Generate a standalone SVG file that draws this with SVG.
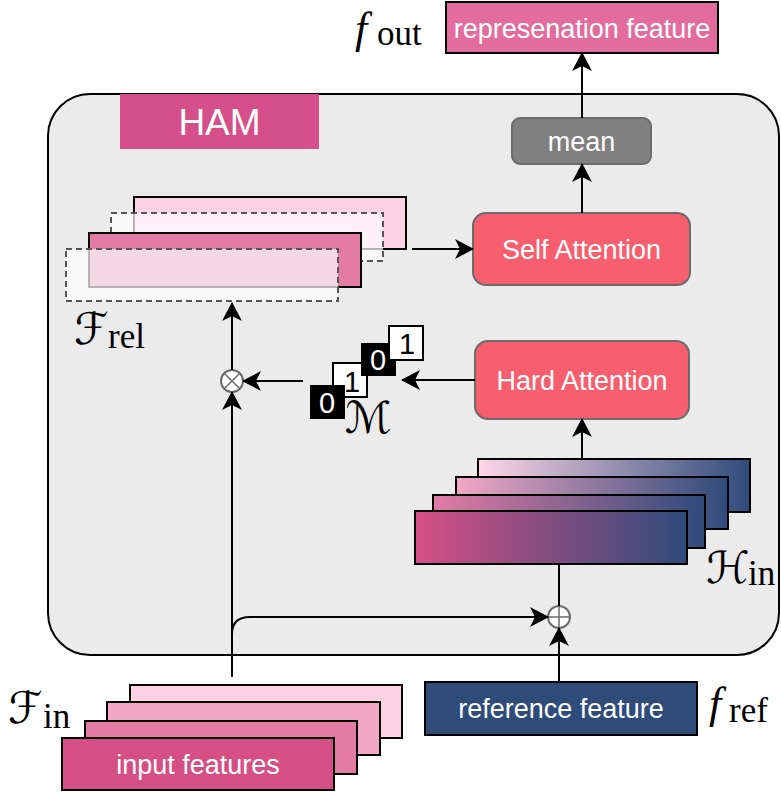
<svg xmlns="http://www.w3.org/2000/svg" width="781" height="797" viewBox="0 0 781 797">
  <style>
    .lbl { font-family: "Liberation Sans", Arial, sans-serif; font-size: 27px; fill: #ffffff; text-anchor: middle; }
    .box { stroke: #000; stroke-width: 2; }
    .rbox { stroke: #6b6b6b; stroke-width: 2; }
    .dash { fill: #ffffff; fill-opacity: 0.7; stroke: #555; stroke-width: 2; stroke-dasharray: 6 4; }
    .edge { fill: none; stroke: #000; stroke-width: 2; }
    .op { fill: #ffffff; stroke: #6b6b6b; stroke-width: 2; }
    .mathf { font-family: "Liberation Serif", "Times New Roman", serif; font-style: italic; font-size: 44px; fill: #000; }
    .cal { font-family: "DejaVu Serif", "DejaVu Sans", serif; font-style: italic; font-size: 44px; fill: #000; }
    .sub { font-family: "Liberation Serif", "Times New Roman", serif; font-size: 35px; fill: #000; }
    .bit { font-family: "Liberation Sans", Arial, sans-serif; font-size: 29px; text-anchor: middle; }
  </style>
  <defs>
    <marker id="arrow" viewBox="0 0 19 20" refX="18" refY="10" markerWidth="19" markerHeight="20" markerUnits="userSpaceOnUse" orient="auto">
      <path d="M0,0 L19,10 L0,20 L5,10 Z" fill="#000"/>
    </marker>
    <linearGradient id="g1" x1="0" y1="0" x2="1" y2="0">
      <stop offset="0" stop-color="#ffd6e6"/>
      <stop offset="1" stop-color="#2f4b7c"/>
    </linearGradient>
    <linearGradient id="g2" x1="0" y1="0" x2="1" y2="0">
      <stop offset="0" stop-color="#f2a8c4"/>
      <stop offset="1" stop-color="#2f4b7c"/>
    </linearGradient>
    <linearGradient id="g3" x1="0" y1="0" x2="1" y2="0">
      <stop offset="0" stop-color="#e27ca3"/>
      <stop offset="1" stop-color="#2f4b7c"/>
    </linearGradient>
    <linearGradient id="g4" x1="0" y1="0" x2="1" y2="0">
      <stop offset="0" stop-color="#d54f84"/>
      <stop offset="1" stop-color="#2f4b7c"/>
    </linearGradient>
  </defs>

  <!-- HAM module container -->
  <g id="ham">
    <rect x="48" y="94" width="731" height="561" rx="42" fill="#ebebeb" stroke="#000" stroke-width="2"/>
    <rect x="120" y="94" width="199" height="55" fill="#d5508a"/>
    <text x="219.5" y="135" class="lbl" style="font-size:37px">HAM</text>
  </g>

  <!-- output -->
  <g id="out-feature">
    <rect class="box" x="446" y="2" width="272" height="51" fill="#e36c9e"/>
    <text x="582" y="38" class="lbl">represenation feature</text>
  </g>
  <g id="f-out">
    <text x="355" y="43" class="mathf">f</text>
    <text x="377" y="45" class="sub">out</text>
  </g>

  <g id="mean">
    <rect class="rbox" x="512" y="118" width="139" height="46" rx="8" fill="#808080"/>
    <text x="581.5" y="151" class="lbl">mean</text>
  </g>

  <g id="self-attention">
    <rect class="rbox" x="473" y="213" width="217" height="72" rx="13" fill="#f85f6e"/>
    <text x="581.5" y="259" class="lbl">Self Attention</text>
  </g>

  <g id="hard-attention">
    <rect class="rbox" x="475" y="341" width="214" height="78" rx="13" fill="#f85f6e"/>
    <text x="582" y="390" class="lbl">Hard Attention</text>
  </g>

  <!-- relevant feature stack -->
  <g id="f-rel">
    <rect class="box" x="134" y="197" width="272" height="52" fill="#ffd1e3"/>
    <rect class="dash" x="111" y="213" width="272" height="48"/>
    <rect class="box" x="89" y="233" width="272" height="54" fill="#e27ca3"/>
    <rect class="dash" x="66" y="249" width="272" height="52"/>
    <text x="74" y="344" class="cal">ℱ</text>
    <text x="108" y="348" class="sub">rel</text>
  </g>

  <g id="otimes">
    <circle class="op" cx="232" cy="381" r="11"/>
    <path d="M224.2,373.2 L239.8,388.8 M239.8,373.2 L224.2,388.8" stroke="#6b6b6b" stroke-width="1.5"/>
  </g>

  <!-- binary mask -->
  <g id="mask">
    <rect x="333" y="363" width="34" height="34" fill="#fff" stroke="#000" stroke-width="2"/>
    <text x="352" y="392" class="bit" fill="#000">1</text>
    <rect x="310" y="385" width="35" height="34" fill="#000"/>
    <text x="327" y="413" class="bit" fill="#fff">0</text>
    <rect x="361" y="343" width="35" height="33" fill="#000"/>
    <text x="378" y="370" class="bit" fill="#fff">0</text>
    <rect x="389" y="326" width="34" height="34" fill="#fff" stroke="#000" stroke-width="2"/>
    <text x="407" y="354" class="bit" fill="#000">1</text>
    <text x="345" y="433" class="cal">ℳ</text>
  </g>

  <!-- hidden feature stack -->
  <g id="h-in">
    <rect class="box" x="478" y="459" width="272" height="53" fill="url(#g1)"/>
    <rect class="box" x="456" y="477" width="272" height="52" fill="url(#g2)"/>
    <rect class="box" x="433" y="495" width="272" height="53" fill="url(#g3)"/>
    <rect class="box" x="415" y="511" width="272" height="53" fill="url(#g4)"/>
    <text x="706" y="583" class="cal">ℋ</text>
    <text x="748" y="585" class="sub">in</text>
  </g>

  <g id="oplus">
    <circle class="op" cx="559" cy="617" r="11"/>
    <path d="M548,617 L570,617 M559,606 L559,628" stroke="#6b6b6b" stroke-width="1.5"/>
  </g>

  <!-- inputs -->
  <g id="input-features">
    <rect class="box" x="130" y="685" width="272" height="53" fill="#ffd1e3"/>
    <rect class="box" x="107" y="702" width="273" height="53" fill="#f2a8c4"/>
    <rect class="box" x="85" y="721" width="272" height="53" fill="#e27ca3"/>
    <rect class="box" x="62" y="738" width="272" height="52" fill="#d54f84"/>
    <text x="198" y="774" class="lbl">input features</text>
    <text x="8" y="723" class="cal">ℱ</text>
    <text x="43" y="728" class="sub">in</text>
  </g>

  <g id="reference-feature">
    <rect class="box" x="425" y="682" width="272" height="53" fill="#2e4b7a"/>
    <text x="561" y="718" class="lbl">reference feature</text>
  </g>
  <g id="f-ref">
    <text x="709" y="718" class="mathf">f</text>
    <text x="729" y="722" class="sub">ref</text>
  </g>

  <!-- connectors -->
  <g id="connectors">
    <path class="edge" d="M582,213 L582,164" marker-end="url(#arrow)"/>
    <path class="edge" d="M582,118 L582,53" marker-end="url(#arrow)"/>
    <path class="edge" d="M412,249 L473,249" marker-end="url(#arrow)"/>
    <path class="edge" d="M232,370 L232,303" marker-end="url(#arrow)"/>
    <path class="edge" d="M303,381 L243,381" marker-end="url(#arrow)"/>
    <path class="edge" d="M475,380 L402,380" marker-end="url(#arrow)"/>
    <path class="edge" d="M582,459 L582,419" marker-end="url(#arrow)"/>
    <path class="edge" d="M559,564 L559,606"/>
    <path class="edge" d="M559,682 L559,628" marker-end="url(#arrow)"/>
    <path class="edge" d="M232,677 L232,392" marker-end="url(#arrow)"/>
    <path class="edge" d="M232,634 Q232,617 250,617 L548,617" marker-end="url(#arrow)"/>
  </g>
</svg>
